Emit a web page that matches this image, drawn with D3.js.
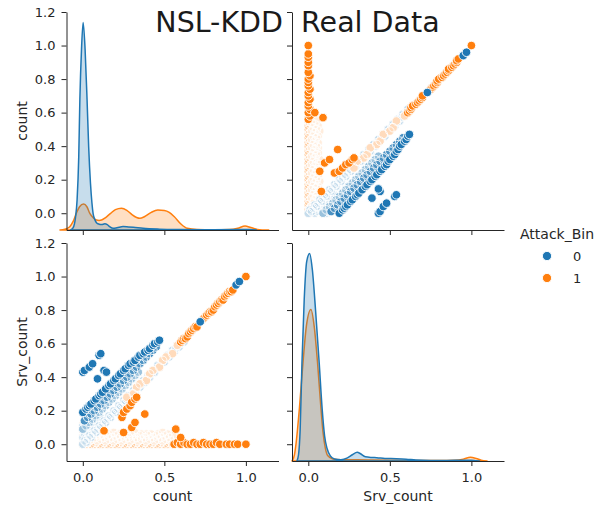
<!DOCTYPE html>
<html>
<head>
<meta charset="utf-8">
<script src="https://cdn.jsdelivr.net/npm/d3@7"></script>
<style>
  html, body { margin: 0; padding: 0; background: #fff; }
  svg { display: block; font-family: "DejaVu Sans", sans-serif; }
</style>
</head>
<body>
<svg id="chart" width="595" height="508"></svg>
<script>
// ---------------------------------------------------------------
// Pair plot of the normalised "count" and "Srv_count" features,
// coloured by the binary attack label.
// ---------------------------------------------------------------
const variables = ["count", "Srv_count"];
const hueLevels = ["0", "1"];
const hueColors = ["#1f77b4", "#ff7f0e"];
const axisTicks = [0, 0.2, 0.4, 0.6, 0.8, 1.0, 1.2];
const bottomTicks = [0, 0.5, 1.0];
const titleText = "NSL-KDD  Real Data";
const legendTitle = "Attack_Bin";

// Records as [count, Srv_count]; groups listed in drawing order.
// Attack_Bin = 1 : Srv_count exactly zero, low count
const attackFloorEdge = [
  [0.00,0.00],[0.02,0.00],[0.03,0.01],[0.05,0.00],[0.07,0.00],[0.08,0.01],[0.10,0.00],[0.12,0.00],[0.13,0.01],[0.15,0.00],
  [0.17,0.00],[0.18,0.01],[0.20,0.00],[0.22,0.00],[0.23,0.01],[0.25,0.00],[0.27,0.00],[0.28,0.01],[0.30,0.00],[0.32,0.00],
  [0.33,0.01],[0.35,0.00],[0.37,0.00],[0.38,0.01],[0.40,0.00],[0.42,0.00],[0.43,0.01],[0.45,0.00],[0.47,0.00],[0.48,0.01],
  [0.50,0.00],[0.52,0.00],[0.53,0.01],[0.55,0.00]
];
// Attack_Bin = 1 : dense floor with small Srv_count
const attackFloor = [
  [0.01,0.03],[0.04,0.02],[0.06,0.03],[0.09,0.02],[0.11,0.03],[0.14,0.02],[0.16,0.03],[0.19,0.02],[0.21,0.03],[0.24,0.02],
  [0.26,0.03],[0.29,0.02],[0.31,0.03],[0.34,0.02],[0.36,0.03],[0.39,0.02],[0.41,0.03],[0.44,0.02],[0.46,0.03],[0.49,0.02],
  [0.51,0.03],[0.54,0.02],
  [0.00,0.05],[0.03,0.04],[0.05,0.05],[0.08,0.04],[0.10,0.05],[0.13,0.04],[0.15,0.05],[0.18,0.04],[0.20,0.05],[0.23,0.04],
  [0.25,0.05],[0.28,0.04],[0.30,0.05],[0.33,0.04],[0.35,0.05],[0.38,0.04],[0.40,0.05],[0.43,0.04],[0.45,0.05],[0.48,0.04],
  [0.50,0.05],[0.53,0.04],[0.55,0.05],
  [0.02,0.06],[0.06,0.07],[0.09,0.06],[0.12,0.06],[0.16,0.06],[0.19,0.07],[0.22,0.06],[0.26,0.06],[0.29,0.06],[0.32,0.07],
  [0.36,0.06],[0.39,0.06],[0.42,0.06],[0.46,0.06],[0.49,0.07],[0.52,0.06],
  [0.00,0.08],[0.01,0.10],[0.00,0.12],[0.02,0.09],[0.01,0.07]
];

// Attack_Bin = 0 : pale wedge next to the origin
const benignWedge = [
  [0.00,0.04],[0.01,0.06],[0.02,0.04],[0.03,0.07],[0.04,0.06],[0.05,0.08],[0.06,0.09],[0.07,0.10],[0.08,0.11],[0.10,0.13],
  [0.12,0.15],[0.00,0.11],[0.01,0.13]
];

// Attack_Bin = 0 : records with count == Srv_count
const benignDiag = [
  [0.00,0.00],[0.01,0.02],[0.02,0.01],[0.03,0.03],[0.04,0.05],[0.05,0.04],[0.06,0.06],[0.07,0.08],[0.08,0.07],[0.09,0.09],
  [0.10,0.11],[0.11,0.10],[0.12,0.12],[0.13,0.14],[0.14,0.13],[0.15,0.15],[0.16,0.17],[0.17,0.16],[0.18,0.18],[0.19,0.20],
  [0.20,0.19],[0.21,0.21],[0.22,0.23],[0.23,0.22],[0.24,0.24],[0.25,0.26],[0.26,0.25],[0.27,0.27],[0.28,0.29],[0.29,0.28],
  [0.30,0.30],[0.31,0.32],[0.32,0.31],[0.33,0.33],[0.34,0.35],[0.35,0.34],[0.36,0.36],[0.37,0.38],[0.38,0.37],[0.39,0.39],
  [0.40,0.41],[0.41,0.40],[0.42,0.42],[0.43,0.44],[0.44,0.43],[0.45,0.45],[0.46,0.47],[0.47,0.46],[0.48,0.48],[0.49,0.50],
  [0.50,0.49],[0.51,0.51],[0.52,0.53],[0.53,0.52],[0.54,0.54],[0.55,0.56],[0.56,0.55],[0.57,0.57],[0.58,0.59],[0.59,0.58],
  [0.60,0.60],[0.61,0.62],[0.62,0.61]
];

// Attack_Bin = 1 : sparse records on the diagonal among the benign ones
const attackDiagLow = [
  [0.27,0.28],[0.31,0.30],[0.33,0.34],[0.35,0.36],[0.39,0.38],[0.41,0.42],[0.43,0.44],[0.47,0.46],[0.49,0.50],[0.51,0.52],
  [0.55,0.54],[0.58,0.59]
];

// Attack_Bin = 0 : band where Srv_count runs above count (lower, middle, upper edge)
const benignBandLow = [
  [0.00,0.09],[0.02,0.11],[0.04,0.13],[0.06,0.15],[0.08,0.17],[0.10,0.19],[0.12,0.21],[0.14,0.23],[0.16,0.25],[0.18,0.27],
  [0.20,0.29],[0.22,0.31],[0.24,0.33],[0.26,0.35],[0.28,0.37],[0.30,0.39],[0.32,0.41],[0.34,0.43]
];
const benignBandMid = [
  [0.01,0.14],[0.03,0.16],[0.05,0.18],[0.07,0.20],[0.09,0.22],[0.11,0.24],[0.13,0.26],[0.15,0.28],[0.17,0.30],[0.19,0.32],
  [0.21,0.34],[0.23,0.36],[0.25,0.38],[0.27,0.40],[0.29,0.42],[0.31,0.44],[0.33,0.46],[0.35,0.48],[0.37,0.50],[0.39,0.52],
  [0.41,0.54],[0.43,0.56],[0.45,0.58]
];
const benignBandTop = [
  [0.00,0.19],[0.02,0.21],[0.03,0.22],[0.04,0.23],[0.05,0.24],[0.07,0.26],[0.08,0.27],[0.10,0.29],[0.11,0.30],[0.12,0.31],
  [0.14,0.33],[0.16,0.35],[0.17,0.36],[0.19,0.38],[0.20,0.39],[0.22,0.41],[0.23,0.42],[0.25,0.44],[0.26,0.45],[0.28,0.47],
  [0.29,0.48],[0.31,0.49],[0.32,0.50],[0.34,0.52],[0.35,0.53],[0.37,0.54],[0.38,0.55],[0.40,0.56],[0.41,0.57],[0.43,0.59],
  [0.44,0.60],[0.46,0.61],[0.47,0.62]
];

// Attack_Bin = 1 : Srv_count near zero for large count
const attackRun = [
  [0.56,0.00],[0.58,0.01],[0.60,0.00],[0.62,0.01],[0.64,0.00],[0.66,0.00],[0.68,0.01],[0.70,0.00],[0.72,0.00],[0.74,0.01],
  [0.76,0.00],[0.78,0.00],[0.80,0.00],[0.82,0.01],[0.84,0.00],[0.88,0.00],[0.90,0.00],[0.93,0.00],[0.95,0.00],[1.00,0.00]
];

// Attack_Bin = 1 : upper part of the diagonal
const attackDiagHigh = [
  [0.60,0.61],[0.61,0.62],[0.62,0.63],[0.63,0.63],[0.64,0.64],[0.65,0.66],[0.66,0.67],[0.67,0.68],[0.68,0.69],[0.69,0.70],
  [0.70,0.70],[0.74,0.75],[0.75,0.76],[0.76,0.77],[0.77,0.78],[0.78,0.79],[0.79,0.79],[0.80,0.80],[0.81,0.82],[0.82,0.83],
  [0.83,0.84],[0.84,0.85],[0.85,0.86],[0.86,0.86],[0.87,0.88],[0.88,0.89],[0.89,0.90],[0.90,0.91],[0.91,0.91],[0.92,0.92],
  [1.00,1.00]
];

// Attack_Bin = 0 : isolated records on the upper diagonal
const benignHigh = [[0.72,0.73],[0.94,0.95],[0.96,0.97]];

// Attack_Bin = 1 : scattered records off the main structures
const attackSpread = [
  [0.13,0.08],[0.25,0.07],[0.30,0.10],[0.32,0.13],[0.38,0.18],[0.24,0.16],[0.25,0.19],[0.27,0.21],[0.29,0.23],[0.30,0.25],
  [0.32,0.27],[0.33,0.28],[0.57,0.09],[0.60,0.04]
];

// Attack_Bin = 0 : small cluster with low count and mid Srv_count
const benignCluster = [
  [0.00,0.43],[0.01,0.44],[0.04,0.46],[0.06,0.48],[0.10,0.53],[0.11,0.54],[0.09,0.39],[0.13,0.44],[0.145,0.43]
];

// Kernel density estimates on the diagonal, as [value, density]
const kdeCountBenign = [
  [-0.075,0],[-0.06,0.01],[-0.045,0.06],[-0.035,0.145],[-0.025,0.35],[-0.018,0.63],[-0.008,0.87],[0.002,1.0],[0.014,0.87],
  [0.026,0.63],[0.036,0.4],[0.047,0.225],[0.056,0.13],[0.063,0.08],[0.074,0.05],[0.084,0.035],[0.10,0.028],[0.115,0.026],
  [0.135,0.03],[0.15,0.026],[0.165,0.016],[0.186,0.008],[0.21,0.011],[0.247,0.017],[0.28,0.015],[0.31,0.013],[0.37,0.008],
  [0.47,0.004],[0.6,0.002],[0.8,0.001],[0.95,0.002],[1.0,0.003],[1.04,0.001],[1.065,0]
];
const kdeCountAttack = [
  [-0.14,0],[-0.11,0.004],[-0.08,0.016],[-0.06,0.04],[-0.04,0.08],[-0.02,0.112],[0.005,0.125],[0.025,0.112],[0.043,0.08],
  [0.065,0.058],[0.084,0.048],[0.1,0.046],[0.115,0.048],[0.14,0.06],[0.17,0.08],[0.2,0.098],[0.237,0.105],[0.27,0.095],
  [0.3,0.075],[0.33,0.06],[0.35,0.056],[0.38,0.065],[0.42,0.085],[0.46,0.096],[0.5,0.094],[0.53,0.085],[0.56,0.065],
  [0.6,0.03],[0.64,0.008],[0.7,0.002],[0.8,0.001],[0.9,0.002],[0.95,0.008],[0.995,0.019],[1.03,0.012],[1.07,0.003],
  [1.1,0.0005],[1.14,0]
];
const kdeSrvBenign = [
  [-0.07,0],[-0.06,0.03],[-0.05,0.15],[-0.039,0.47],[-0.025,0.78],[-0.01,0.96],[0.008,1.0],[0.025,0.92],[0.045,0.72],
  [0.067,0.47],[0.085,0.25],[0.1,0.12],[0.115,0.06],[0.135,0.025],[0.16,0.01],[0.2,0.006],[0.24,0.015],[0.27,0.03],
  [0.3,0.042],[0.32,0.035],[0.35,0.02],[0.39,0.017],[0.42,0.016],[0.47,0.012],[0.54,0.011],[0.6,0.009],[0.66,0.005],
  [0.75,0.003],[0.85,0.003],[0.95,0.004],[1.0,0.004],[1.03,0.001],[1.05,0]
];
const kdeSrvAttack = [
  [-0.1,0],[-0.085,0.03],[-0.075,0.085],[-0.055,0.25],[-0.033,0.47],[-0.012,0.65],[0.016,0.73],[0.036,0.65],[0.057,0.47],
  [0.075,0.28],[0.09,0.14],[0.105,0.06],[0.12,0.025],[0.15,0.01],[0.2,0.006],[0.3,0.006],[0.4,0.005],[0.5,0.004],
  [0.6,0.003],[0.7,0.003],[0.8,0.003],[0.9,0.004],[0.95,0.009],[0.994,0.018],[1.03,0.012],[1.06,0.004],[1.096,0]
];

// ---------------------------------------------------------------
// Heavily overplotted groups wash out towards white (wash = share of white);
// their white marker edges end up on top of the fills.
const pointGroups = [
  { rows: attackFloorEdge, hue: 1, wash: 0.62 },
  { rows: attackFloor,     hue: 1, wash: 0.86 },
  { rows: benignWedge,     hue: 0, wash: 0.8 },
  { rows: benignDiag,      hue: 0, wash: 0.74 },
  { rows: attackDiagLow,   hue: 1, wash: 0.72 },
  { rows: benignBandLow,   hue: 0, wash: 0.55 },
  { rows: benignBandMid,   hue: 0, wash: 0.2 },
  { rows: benignBandTop,   hue: 0, wash: 0 },
  { rows: attackRun,       hue: 1, wash: 0 },
  { rows: attackDiagHigh,  hue: 1, wash: 0 },
  { rows: benignHigh,      hue: 0, wash: 0 },
  { rows: attackSpread,    hue: 1, wash: 0 },
  { rows: benignCluster,   hue: 0, wash: 0 }
];
const kdes = [
  [kdeCountBenign, kdeCountAttack],
  [kdeSrvBenign, kdeSrvAttack]
];

const ink = "#262626";
const svg = d3.select("#chart");

const colRange = [[66.5, 278.5], [292, 504]];
const rowRange = [[12, 230], [243, 461]];
const domain = [-0.1, 1.2];
const xScales = colRange.map(r => d3.scaleLinear().domain(domain).range(r));
const yScales = rowRange.map(r => d3.scaleLinear().domain(domain).range([r[1], r[0]]));

const defs = svg.append("defs");
const R = 4.3;
const EDGE = 0.9;

for (let r = 0; r < 2; r++) {
  for (let c = 0; c < 2; c++) {
    const x = xScales[c], y = yScales[r];
    const g = svg.append("g");
    const clipId = `clip-${r}-${c}`;
    defs.append("clipPath").attr("id", clipId).append("rect")
      .attr("x", colRange[c][0]).attr("y", rowRange[r][0])
      .attr("width", colRange[c][1] - colRange[c][0])
      .attr("height", rowRange[r][1] - rowRange[r][0]);

    if (r === c) {
      // diagonal: class-wise density curves on their own vertical scale
      const [kb, ka] = kdes[r];
      const dmax = d3.max([...kb, ...ka], d => d[1]);
      const dy = d3.scaleLinear().domain([0, dmax * 1.05]).range([rowRange[r][1], rowRange[r][0]]);
      const area = d3.area().x(d => x(d[0])).y0(dy(0)).y1(d => dy(d[1])).curve(d3.curveMonotoneX);
      [[ka, 1], [kb, 0]].forEach(([data, h]) => {
        g.append("path").datum(data).attr("d", area)
          .attr("fill", hueColors[h]).attr("fill-opacity", 0.25)
          .attr("stroke", hueColors[h]).attr("stroke-width", 1.5)
          .attr("stroke-linejoin", "round");
      });
    } else {
      // off-diagonal: scatter of variable c (x) against variable r (y)
      const pg = g.append("g").attr("clip-path", `url(#${clipId})`);
      pointGroups.forEach(grp => {
        const sel = pg.append("g");
        const fill = d3.interpolateRgb(hueColors[grp.hue], "#ffffff")(grp.wash);
        const dots = sel.selectAll("circle.dot").data(grp.rows).join("circle")
          .attr("class", "dot")
          .attr("cx", d => x(d[c])).attr("cy", d => y(d[r])).attr("r", R)
          .attr("fill", fill);
        if (grp.wash > 0) {
          sel.selectAll("circle.edge").data(grp.rows).join("circle")
            .attr("class", "edge")
            .attr("cx", d => x(d[c])).attr("cy", d => y(d[r])).attr("r", R)
            .attr("fill", "none").attr("stroke", "#fff").attr("stroke-width", EDGE);
        } else {
          dots.attr("stroke", "#fff").attr("stroke-width", EDGE);
        }
      });
    }

    // axes: left and bottom spines only
    const left = d3.axisLeft(y).tickValues(axisTicks).tickSize(5).tickSizeOuter(0).tickPadding(6)
      .tickFormat(c === 0 ? d3.format(".1f") : () => "");
    const bottom = d3.axisBottom(x).tickValues(bottomTicks).tickSize(5).tickSizeOuter(0).tickPadding(7)
      .tickFormat(r === 1 ? d3.format(".1f") : () => "");
    const ga = svg.append("g").attr("transform", `translate(${colRange[c][0]},0)`).call(left);
    const gb = svg.append("g").attr("transform", `translate(0,${rowRange[r][1]})`).call(bottom);
    [ga, gb].forEach(a => {
      a.select(".domain").attr("stroke", ink).attr("stroke-width", 1);
      a.selectAll(".tick line").attr("stroke", ink).attr("stroke-width", 1);
      a.selectAll(".tick text").attr("fill", ink).attr("font-size", 13)
        .attr("font-family", "DejaVu Sans, sans-serif");
    });
  }
}

// axis labels
variables.forEach((v, i) => {
  const cy = (rowRange[i][0] + rowRange[i][1]) / 2;
  svg.append("text").attr("transform", `translate(27,${cy}) rotate(-90)`)
    .attr("text-anchor", "middle").attr("font-size", 14).attr("fill", ink).text(v);
  const cx = (colRange[i][0] + colRange[i][1]) / 2;
  svg.append("text").attr("x", cx).attr("y", 501)
    .attr("text-anchor", "middle").attr("font-size", 14).attr("fill", ink).text(v);
});

// legend
const lg = svg.append("g");
lg.append("text").attr("x", 520).attr("y", 239).attr("font-size", 14).attr("fill", ink).text(legendTitle);
hueLevels.forEach((lab, i) => {
  const yy = 256 + i * 22;
  lg.append("circle").attr("cx", 547).attr("cy", yy).attr("r", R + 0.3)
    .attr("fill", hueColors[i]).attr("stroke", "#fff").attr("stroke-width", EDGE);
  lg.append("text").attr("x", 573).attr("y", yy + 5).attr("font-size", 13).attr("fill", ink).text(lab);
});

// figure title
svg.append("text").attr("x", 297.5).attr("y", 32).attr("text-anchor", "middle")
  .attr("font-size", 28.5).attr("fill", "#1a1a1a").style("white-space", "pre")
  .text(titleText);
</script>
</body>
</html>
